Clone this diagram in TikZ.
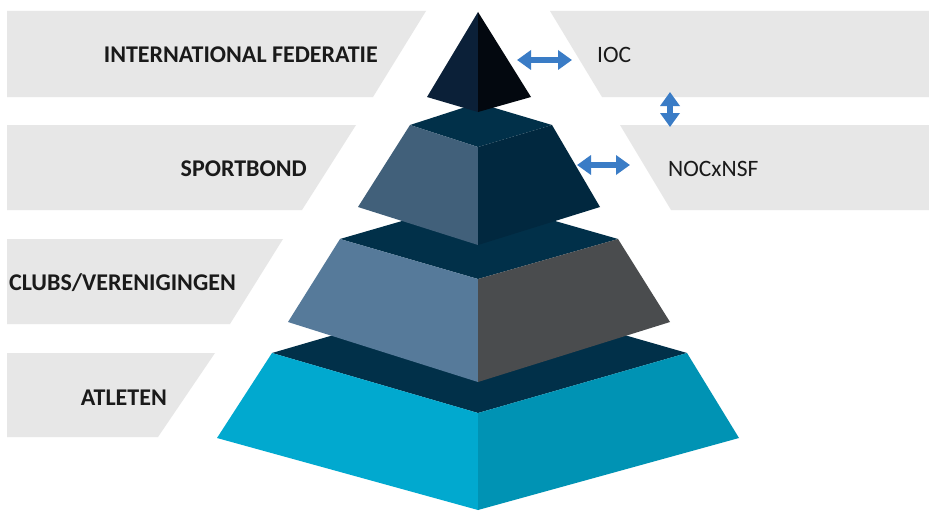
\documentclass[tikz,border=0pt]{standalone}
\usepackage{fontspec}
\setmainfont{Carlito}
\usetikzlibrary{arrows.meta}
\definecolor{band}{HTML}{E7E7E7}
\definecolor{txt}{HTML}{1A1A1A}
\definecolor{arrowblue}{HTML}{3A7CC6}
\definecolor{navytop}{HTML}{013049}
\definecolor{tetL}{HTML}{0B2038}
\definecolor{tetR}{HTML}{03080F}
\definecolor{tTwoL}{HTML}{41607A}
\definecolor{tTwoR}{HTML}{01283F}
\definecolor{tThreeL}{HTML}{567A9A}
\definecolor{tThreeR}{HTML}{4A4C4E}
\definecolor{tFourL}{HTML}{01A9CF}
\definecolor{tFourR}{HTML}{0093B4}
\tikzset{
  lefttext/.style={font=\fontsize{24}{28}\selectfont\bfseries, text=txt, inner sep=0pt, anchor=base east},
  righttext/.style={font=\fontsize{23.5}{27}\selectfont, text=txt, inner sep=0pt, anchor=base west},
  dblarrow/.style={draw=arrowblue, line width=5.5pt, {Triangle[length=14pt,width=19pt]}-{Triangle[length=14pt,width=19pt]}},
}
\begin{document}
\begin{tikzpicture}[x=1pt,y=-1pt]
\useasboundingbox (0,0) rectangle (929,511);
\fill[white] (0,0) rectangle (929,511);
% left bands
\fill[band] (7,11) -- (426,11) -- (373,97) -- (7,97) -- cycle;
\fill[band] (7,125) -- (356,125) -- (302,210) -- (7,210) -- cycle;
\fill[band] (7,239) -- (283,239) -- (230,324) -- (7,324) -- cycle;
\fill[band] (7,353) -- (215,353) -- (158,437) -- (7,437) -- cycle;
% right bands
\fill[band] (550,11) -- (929,11) -- (929,97) -- (602,97) -- cycle;
\fill[band] (620,125) -- (929,125) -- (929,210) -- (671,210) -- cycle;
% tier 4
\fill[navytop] (272,353) -- (478,293) -- (687,353) -- (478,413) -- cycle;
\fill[tFourL] (272,353) -- (478,413) -- (478,510) -- (217,438) -- cycle;
\fill[tFourR] (478,413) -- (687,353) -- (739,438) -- (478,510) -- cycle;
% tier 3
\fill[navytop] (340,239) -- (478,199) -- (618,239) -- (478,279) -- cycle;
\fill[tThreeL] (340,239) -- (478,279) -- (478,382) -- (288,322) -- cycle;
\fill[tThreeR] (478,279) -- (618,239) -- (670,322) -- (478,382) -- cycle;
% tier 2
\fill[navytop] (410,125) -- (478,103) -- (552,125) -- (478,147) -- cycle;
\fill[tTwoL] (410,125) -- (478,147) -- (478,245) -- (358,207) -- cycle;
\fill[tTwoR] (478,147) -- (552,125) -- (600,207) -- (478,245) -- cycle;
% tetrahedron
\fill[tetL] (478,12) -- (427,97) -- (478,112) -- cycle;
\fill[tetR] (478,12) -- (478,112) -- (531,97) -- cycle;
% labels
\node[lefttext] (if) at (378,63) {INTERNATIONAL FEDERATIE};
\node[lefttext] (sb) at (307,176) {SPORTBOND};
\node[lefttext] (cv) at (236,290) {CLUBS/VERENIGINGEN};
\node[lefttext] (at) at (167,405) {ATLETEN};
\node[righttext] (ioc) at (597,63) {IOC};
\node[righttext] (noc) at (668,176) {NOCxNSF};
% arrows
\coordinate (a1s) at (517,60);
\coordinate (a1e) at (572,60);
\coordinate (a2s) at (670,92);
\coordinate (a2e) at (670,127);
\coordinate (a3s) at (577,165);
\coordinate (a3e) at (630,165);
\draw[dblarrow] (a1s) -- (a1e);
\draw[dblarrow] (a2s) -- (a2e);
\draw[dblarrow] (a3s) -- (a3e);
\end{tikzpicture}
\end{document}
